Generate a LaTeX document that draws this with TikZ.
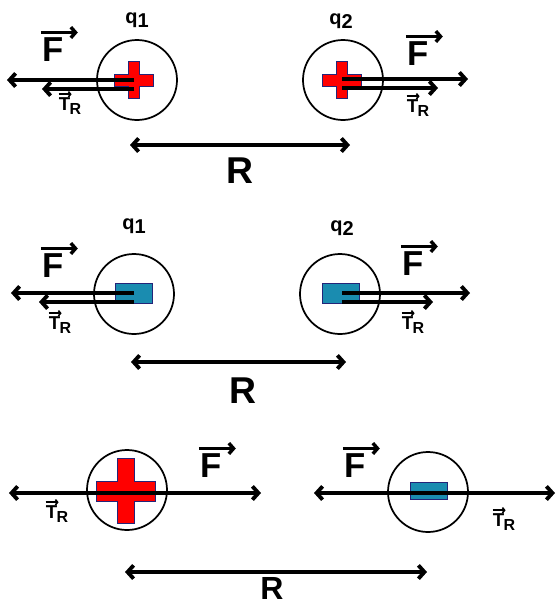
\documentclass[tikz,border=0pt]{standalone}
\usepackage{amsmath}
\usepackage{fontspec}
\setmainfont{Liberation Sans}
\usetikzlibrary{arrows.meta}
\definecolor{plusred}{RGB}{255,0,0}
\definecolor{minusteal}{RGB}{26,140,176}
\definecolor{edgenavy}{RGB}{36,36,120}
\tikzset{
  barb/.tip={Straight Barb[length=4.5pt,width=10pt]},
  force/.style={line width=2.9pt,-barb},
  twoway/.style={line width=2.9pt,barb-barb},
  vecarrow/.style={line width=2.6pt,-{Straight Barb[length=3.5pt,width=8pt]}},
  tinyarrow/.style={line width=1.2pt,-{Straight Barb[length=1.6pt,width=4pt]}},
  ball/.style={circle,draw,line width=1.3pt,minimum size=60pt,inner sep=0pt},
  poscharge/.style={fill=plusred,draw=edgenavy,line width=0.7pt},
  negcharge/.style={fill=minusteal,draw=edgenavy,line width=0.7pt},
  flabel/.style={font=\fontsize{26}{26}\selectfont\bfseries,inner sep=0pt},
  rlabel/.style={font=\fontsize{28}{28}\selectfont\bfseries,inner sep=0pt},
  qlabel/.style={font=\fontsize{15}{15}\selectfont\bfseries,inner sep=0pt},
  tlabel/.style={font=\fontsize{14}{14}\selectfont\bfseries,inner sep=0pt}
}
\newcommand{\tsubr}{T\kern-0.5pt\raisebox{-3.5pt}{\fontsize{12}{12}\selectfont R}}
\begin{document}
\begin{tikzpicture}[x=0.75pt,y=-0.75pt]
  % pixel grid of the reference, y downwards
  \useasboundingbox (0,0) rectangle (556,601);
  % spheres
  \foreach \n/\x/\y in {a1/137/80, a2/343/80, b1/134/294, b2/340/294, c1/127/490, c2/428/492}
    \node[ball] (s\n) at (\x,\y) {};
  % charges: crosses (centre / half widths) and bars
  \foreach \cx/\cy/\v/\u/\w/\h in {134/80/5.5/18.5/19.5/6, 342/80/5.5/18.5/19.5/6, 125.5/491/8.5/32.5/29.5/10}
    \draw[poscharge] (\cx-\v,\cy-\u) -- (\cx+\v,\cy-\u) -- (\cx+\v,\cy-\h) -- (\cx+\w,\cy-\h)
      -- (\cx+\w,\cy+\h) -- (\cx+\v,\cy+\h) -- (\cx+\v,\cy+\u) -- (\cx-\v,\cy+\u)
      -- (\cx-\v,\cy+\h) -- (\cx-\w,\cy+\h) -- (\cx-\w,\cy-\h) -- (\cx-\v,\cy-\h) -- cycle;
  \draw[negcharge] (115,283) rectangle (152,303);
  \draw[negcharge] (322,283) rectangle (359,303);
  \draw[negcharge] (410,482) rectangle (447,499);

  % arrow ends
  \coordinate (qa1) at (134,80);  \coordinate (ea1) at (7,80);
  \coordinate (ta1) at (134,89);  \coordinate (ua1) at (42,89);
  \coordinate (qa2) at (342,79);  \coordinate (ea2) at (468,79);
  \coordinate (ta2) at (342,88);  \coordinate (ua2) at (438,88);
  \coordinate (qb1) at (134,293); \coordinate (eb1) at (11,293);
  \coordinate (tb1) at (134,302); \coordinate (ub1) at (39,302);
  \coordinate (qb2) at (342,293); \coordinate (eb2) at (470,293);
  \coordinate (tb2) at (342,302); \coordinate (ub2) at (433,302);
  \coordinate (lc1) at (9,493);   \coordinate (rc1) at (261,493);
  \coordinate (lc2) at (314,493); \coordinate (rc2) at (555,493);
  \coordinate (ra1) at (130,145); \coordinate (ra2) at (350,145);
  \coordinate (rb1) at (131,362); \coordinate (rb2) at (346,362);
  \coordinate (rc1x) at (125,572); \coordinate (rc2x) at (427,572);

  \foreach \a/\b in {qa1/ea1, ta1/ua1, qa2/ea2, ta2/ua2, qb1/eb1, tb1/ub1, qb2/eb2, tb2/ub2}
    \draw[force] (\a) -- (\b);
  \foreach \a/\b in {lc1/rc1, lc2/rc2, ra1/ra2, rb1/rb2, rc1x/rc2x}
    \draw[twoway] (\a) -- (\b);

  % labels
  \node[qlabel] (qa1l) at (137,20) {q\raisebox{-3pt}{1}};
  \node[qlabel] (qa2l) at (341,21) {q\raisebox{-3pt}{2}};
  \node[qlabel] (qb1l) at (134,226) {q\raisebox{-3pt}{1}};
  \node[qlabel] (qb2l) at (342,228) {q\raisebox{-3pt}{2}};
  \foreach \n/\x/\y in {a1/53/50, a2/418/54, b1/53/266, b2/413/264, c1/211/466, c2/355/466}
  {
    \node[flabel] (f\n) at (\x,\y) {F};
    \draw[vecarrow] ([xshift=-1pt,yshift=4pt]f\n.north west) -- ++(37,0);
  }
  \foreach \n/\x/\y in {a1/70/105, a2/418/107, b1/60/324, b2/413/324, c1/57/513, c2/504/521}
  {
    \node[tlabel,anchor=base] (t\n) at (\x,\y+5) {\tsubr};
    \draw[tinyarrow] ([yshift=2pt]t\n.north west) -- ++(13,0);
  }
  \node[rlabel] (Ra) at (240,171) {R};
  \node[rlabel] (Rb) at (243,391) {R};
  \node[rlabel,font=\fontsize{24}{24}\selectfont\bfseries,anchor=base] (Rc) at (272,599) {R};
\end{tikzpicture}
\end{document}
